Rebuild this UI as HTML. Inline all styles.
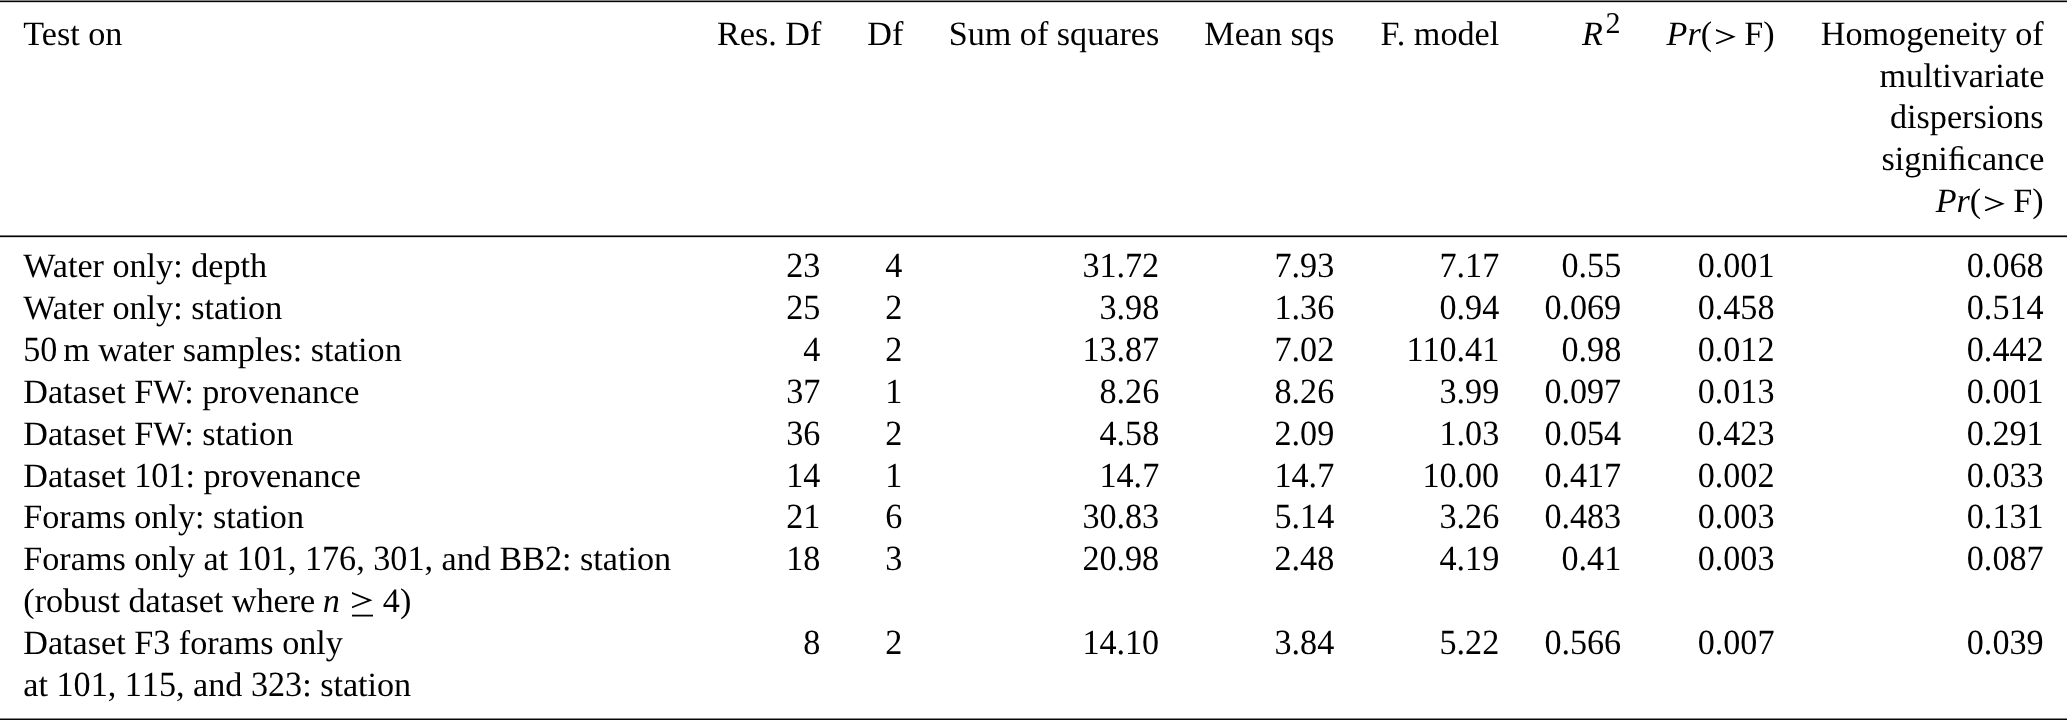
<!DOCTYPE html>
<html><head><meta charset="utf-8"><title>Table</title>
<style>
html,body{margin:0;padding:0;background:#fff;}
body{width:2067px;height:720px;position:relative;overflow:hidden;}
#wrap{position:absolute;left:0;top:0;width:2067px;height:720px;will-change:transform;text-rendering:geometricPrecision;font-family:"Liberation Serif",serif;font-size:34.15px;color:#000;}
.t{position:absolute;white-space:nowrap;line-height:41.73px;height:41.73px;}
.n,.d{transform:scaleY(1.035);transform-origin:0 19.6px;}
.d{display:inline-block;line-height:41.73px;font-kerning:none;}
.rule{position:absolute;left:0;width:2067px;height:1px;}
.sup{font-size:0.88em;position:relative;top:-0.415em;margin-left:0.09em;}
svg{fill:#000;display:inline-block;}
.gt{position:relative;top:-0.8px;margin:0 8.0px 0 3.9px;vertical-align:baseline;}
.ge{position:relative;top:5.1px;margin:0 9.9px 0 11.8px;vertical-align:baseline;}
.thin{display:inline-block;width:0.17em;}
.sp1{display:inline-block;width:0.22em;}
</style></head><body><div id="wrap">
<div class="rule" style="top:0;background:#868686"></div><div class="rule" style="top:1px;background:#050505"></div><div class="rule" style="top:2px;background:#d4d4d4"></div>
<div class="rule" style="top:235px;background:#727272"></div><div class="rule" style="top:236px;background:#050505"></div><div class="rule" style="top:237px;background:#d4d4d4"></div>
<div class="rule" style="top:718px;background:#868686"></div><div class="rule" style="top:719px;background:#050505"></div>
<div class="t" style="top:14.00px;left:23.3px">Test on</div>
<div class="t" style="top:14.00px;right:1245.70px">Res. Df</div>
<div class="t" style="top:14.00px;right:1163.70px">Df</div>
<div class="t" style="top:14.00px;right:907.80px">Sum of squares</div>
<div class="t" style="top:14.00px;right:732.80px">Mean sqs</div>
<div class="t" style="top:14.00px;right:567.80px">F. model</div>
<div class="t" style="top:14.00px;right:446.50px"><i>R</i><span class="sup">2</span></div>
<div class="t" style="top:14.00px;right:292.50px"><i>Pr</i>(<svg class="gt" width="20.2" height="15.6" viewBox="0 0 20.2 15.6"><polygon points="0,0 19.8,7.8 0,15.6 0,13.7 15.0,7.8 0,1.9"/></svg>F)</div>
<div class="t" style="top:14.00px;right:23.40px">Homogeneity of</div>
<div class="t" style="top:56.00px;right:22.50px">multivariate</div>
<div class="t" style="top:97.00px;right:23.40px">dispersions</div>
<div class="t" style="top:139.00px;right:22.50px">signi&#xFB01;cance</div>
<div class="t" style="top:181.00px;right:23.40px"><i>Pr</i>(<svg class="gt" width="20.2" height="15.6" viewBox="0 0 20.2 15.6"><polygon points="0,0 19.8,7.8 0,15.6 0,13.7 15.0,7.8 0,1.9"/></svg>F)</div>
<div class="t n" style="top:246.00px;right:1246.60px">23</div>
<div class="t n" style="top:246.00px;right:1164.60px">4</div>
<div class="t n" style="top:246.00px;right:907.80px">31.72</div>
<div class="t n" style="top:246.00px;right:732.80px">7.93</div>
<div class="t n" style="top:246.00px;right:567.80px">7.17</div>
<div class="t n" style="top:246.00px;right:445.80px">0.55</div>
<div class="t n" style="top:246.00px;right:292.50px">0.001</div>
<div class="t n" style="top:246.00px;right:23.40px">0.068</div>
<div class="t" style="top:246.00px;left:23.3px">Water only: depth</div>
<div class="t n" style="top:288.00px;right:1246.60px">25</div>
<div class="t n" style="top:288.00px;right:1164.60px">2</div>
<div class="t n" style="top:288.00px;right:907.80px">3.98</div>
<div class="t n" style="top:288.00px;right:732.80px">1.36</div>
<div class="t n" style="top:288.00px;right:567.80px">0.94</div>
<div class="t n" style="top:288.00px;right:445.80px">0.069</div>
<div class="t n" style="top:288.00px;right:292.50px">0.458</div>
<div class="t n" style="top:288.00px;right:23.40px">0.514</div>
<div class="t" style="top:288.00px;left:23.3px">Water only: station</div>
<div class="t n" style="top:330.00px;right:1246.60px">4</div>
<div class="t n" style="top:330.00px;right:1164.60px">2</div>
<div class="t n" style="top:330.00px;right:907.80px">13.87</div>
<div class="t n" style="top:330.00px;right:732.80px">7.02</div>
<div class="t n" style="top:330.00px;right:567.80px">110.41</div>
<div class="t n" style="top:330.00px;right:445.80px">0.98</div>
<div class="t n" style="top:330.00px;right:292.50px">0.012</div>
<div class="t n" style="top:330.00px;right:23.40px">0.442</div>
<div class="t" style="top:330.00px;left:23.3px"><span class="d">50</span><span class="thin"></span>m water samples: station</div>
<div class="t n" style="top:372.00px;right:1246.60px">37</div>
<div class="t n" style="top:372.00px;right:1164.60px">1</div>
<div class="t n" style="top:372.00px;right:907.80px">8.26</div>
<div class="t n" style="top:372.00px;right:732.80px">8.26</div>
<div class="t n" style="top:372.00px;right:567.80px">3.99</div>
<div class="t n" style="top:372.00px;right:445.80px">0.097</div>
<div class="t n" style="top:372.00px;right:292.50px">0.013</div>
<div class="t n" style="top:372.00px;right:23.40px">0.001</div>
<div class="t" style="top:372.00px;left:23.3px">Dataset FW: provenance</div>
<div class="t n" style="top:414.00px;right:1246.60px">36</div>
<div class="t n" style="top:414.00px;right:1164.60px">2</div>
<div class="t n" style="top:414.00px;right:907.80px">4.58</div>
<div class="t n" style="top:414.00px;right:732.80px">2.09</div>
<div class="t n" style="top:414.00px;right:567.80px">1.03</div>
<div class="t n" style="top:414.00px;right:445.80px">0.054</div>
<div class="t n" style="top:414.00px;right:292.50px">0.423</div>
<div class="t n" style="top:414.00px;right:23.40px">0.291</div>
<div class="t" style="top:414.00px;left:23.3px">Dataset FW: station</div>
<div class="t n" style="top:456.00px;right:1246.60px">14</div>
<div class="t n" style="top:456.00px;right:1164.60px">1</div>
<div class="t n" style="top:456.00px;right:907.80px">14.7</div>
<div class="t n" style="top:456.00px;right:732.80px">14.7</div>
<div class="t n" style="top:456.00px;right:567.80px">10.00</div>
<div class="t n" style="top:456.00px;right:445.80px">0.417</div>
<div class="t n" style="top:456.00px;right:292.50px">0.002</div>
<div class="t n" style="top:456.00px;right:23.40px">0.033</div>
<div class="t" style="top:456.00px;left:23.3px">Dataset <span class="d">101</span>: provenance</div>
<div class="t n" style="top:497.00px;right:1246.60px">21</div>
<div class="t n" style="top:497.00px;right:1164.60px">6</div>
<div class="t n" style="top:497.00px;right:907.80px">30.83</div>
<div class="t n" style="top:497.00px;right:732.80px">5.14</div>
<div class="t n" style="top:497.00px;right:567.80px">3.26</div>
<div class="t n" style="top:497.00px;right:445.80px">0.483</div>
<div class="t n" style="top:497.00px;right:292.50px">0.003</div>
<div class="t n" style="top:497.00px;right:23.40px">0.131</div>
<div class="t" style="top:497.00px;left:23.3px">Forams only: station</div>
<div class="t n" style="top:539.00px;right:1246.60px">18</div>
<div class="t n" style="top:539.00px;right:1164.60px">3</div>
<div class="t n" style="top:539.00px;right:907.80px">20.98</div>
<div class="t n" style="top:539.00px;right:732.80px">2.48</div>
<div class="t n" style="top:539.00px;right:567.80px">4.19</div>
<div class="t n" style="top:539.00px;right:445.80px">0.41</div>
<div class="t n" style="top:539.00px;right:292.50px">0.003</div>
<div class="t n" style="top:539.00px;right:23.40px">0.087</div>
<div class="t" style="top:539.00px;left:23.3px">Forams only at <span class="d">101</span>, <span class="d">176</span>, <span class="d">301</span>, and BB<span class="d">2</span>: station</div>
<div class="t" style="top:581.00px;left:23.3px">(robust dataset where<span class="sp1"></span><i>n</i><svg class="ge" width="21.3" height="24.9" viewBox="0 0 21.3 24.9"><polygon points="0,0 20.5,8.15 0,16.3 0,14.4 15.6,8.15 0,1.9"/><rect x="0" y="22.7" width="21.0" height="1.8"/></svg>4)</div>
<div class="t n" style="top:623.00px;right:1246.60px">8</div>
<div class="t n" style="top:623.00px;right:1164.60px">2</div>
<div class="t n" style="top:623.00px;right:907.80px">14.10</div>
<div class="t n" style="top:623.00px;right:732.80px">3.84</div>
<div class="t n" style="top:623.00px;right:567.80px">5.22</div>
<div class="t n" style="top:623.00px;right:445.80px">0.566</div>
<div class="t n" style="top:623.00px;right:292.50px">0.007</div>
<div class="t n" style="top:623.00px;right:23.40px">0.039</div>
<div class="t" style="top:623.00px;left:23.3px">Dataset F<span class="d">3</span> forams only</div>
<div class="t" style="top:665.00px;left:23.3px">at <span class="d">101</span>, <span class="d">115</span>, and <span class="d">323</span>: station</div>
</div></body></html>
